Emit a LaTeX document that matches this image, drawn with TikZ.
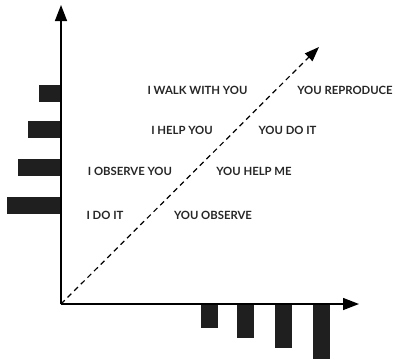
\documentclass[tikz,border=0pt]{standalone}
\usepackage{fontspec}
\setmainfont{Lato}
\usetikzlibrary{arrows.meta}

\tikzset{
  axis/.style={line width=1.1pt, -{Triangle[width=9pt,length=12pt]}},
  diag/.style={line width=0.9pt, dashed, dash pattern=on 4pt off 3pt, -{Triangle[width=8pt,length=11pt]}},
  bar/.style={fill=black!88},
  stage/.style={font=\bfseries\fontsize{8.5}{10}\selectfont, text=black!85, inner sep=0pt}
}

\begin{document}
\begin{tikzpicture}[x=0.75pt, y=-0.75pt]
  \useasboundingbox (0,0) rectangle (395,362);

  \coordinate (origin) at (61,304);
  \coordinate (ytip) at (61,5);
  \coordinate (xtip) at (359,304);
  \coordinate (dtip) at (319,47);

  % bars on the left
  \fill[bar] (39,85) rectangle (61,102);
  \fill[bar] (28,121) rectangle (61,138);
  \fill[bar] (18,159) rectangle (61,176);
  \fill[bar] (7,197) rectangle (61,214);

  % bars below
  \fill[bar] (201,304) rectangle (218,328);
  \fill[bar] (237,304) rectangle (254,338);
  \fill[bar] (275,304) rectangle (292,348);
  \fill[bar] (313,304) rectangle (330,359);

  \draw[axis] (origin) -- (ytip);
  \draw[axis] (origin) -- (xtip);
  \draw[diag] (origin) -- (dtip);

  % teacher / learner
  \node[stage] (walk) at (197.5,90) {I WALK WITH YOU};
  \node[stage] (repro) at (345,90) {YOU REPRODUCE};
  \node[stage] (help) at (182,130) {I HELP YOU};
  \node[stage] (youdo) at (287.5,130) {YOU DO IT};
  \node[stage] (obs) at (130,171) {I OBSERVE YOU};
  \node[stage] (helpme) at (254,171) {YOU HELP ME};
  \node[stage] (ido) at (105,215) {I DO IT};
  \node[stage] (youobs) at (213,215) {YOU OBSERVE};
\end{tikzpicture}
\end{document}
